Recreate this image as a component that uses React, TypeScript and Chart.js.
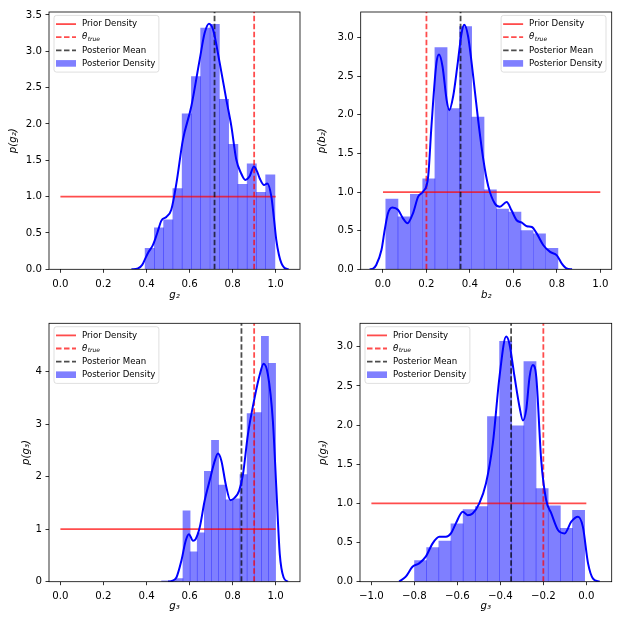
import { useEffect, useRef } from 'react';
import { Chart, registerables } from 'chart.js';

Chart.register(...registerables);
Chart.defaults.font.family = '"DejaVu Sans"';
Chart.defaults.color = '#000';

// ---- panel 1: g2 ----
const g2BinCenters = [0.415, 0.458, 0.501, 0.544, 0.587, 0.630, 0.673, 0.717, 0.760, 0.803, 0.846, 0.889, 0.932, 0.975];
const g2Density = [0.29, 0.57, 0.68, 1.11, 2.14, 2.65, 3.32, 3.37, 2.34, 1.72, 1.17, 1.45, 1.06, 1.30];
const g2KdeX = [0.33, 0.36, 0.38, 0.393, 0.41, 0.43, 0.45, 0.469, 0.492, 0.515, 0.539, 0.569, 0.608, 0.647, 0.670, 0.690, 0.709, 0.740, 0.771, 0.794, 0.817, 0.838, 0.859, 0.879, 0.899, 0.913, 0.926, 0.946, 0.961, 0.980, 0.992, 1.003, 1.015, 1.027, 1.04, 1.06];
const g2KdeY = [0, 0.01, 0.06, 0.14, 0.24, 0.335, 0.5, 0.67, 0.72, 0.82, 1.185, 1.78, 2.24, 2.885, 3.25, 3.38, 3.30, 2.84, 2.33, 1.97, 1.51, 1.33, 1.23, 1.28, 1.415, 1.35, 1.25, 1.16, 1.18, 1.0, 0.7, 0.40, 0.2, 0.08, 0.02, 0];
const g2True = 0.9;
const g2Mean = 0.716;

// ---- panel 2: b2 ----
const b2BinCenters = [0.041, 0.097, 0.154, 0.211, 0.267, 0.324, 0.380, 0.437, 0.494, 0.550, 0.607, 0.663, 0.720, 0.777];
const b2Density = [0.91, 0.68, 0.97, 1.17, 2.87, 2.08, 3.14, 1.97, 1.03, 0.78, 0.74, 0.50, 0.46, 0.27];
const b2KdeX = [-0.061, -0.045, -0.031, -0.007, 0.008, 0.023, 0.043, 0.069, 0.092, 0.113, 0.138, 0.162, 0.185, 0.208, 0.223, 0.246, 0.258, 0.274, 0.293, 0.305, 0.323, 0.342, 0.362, 0.374, 0.392, 0.415, 0.438, 0.462, 0.485, 0.515, 0.538, 0.569, 0.592, 0.615, 0.639, 0.662, 0.685, 0.708, 0.738, 0.769, 0.800, 0.823, 0.845, 0.87];
const b2KdeY = [0, 0.01, 0.056, 0.25, 0.51, 0.725, 0.80, 0.77, 0.66, 0.596, 0.725, 0.94, 1.006, 1.2, 1.85, 2.67, 2.78, 2.625, 2.19, 2.06, 2.24, 2.625, 3.06, 3.165, 3.01, 2.50, 1.93, 1.416, 1.07, 0.85, 0.81, 0.87, 0.76, 0.635, 0.605, 0.557, 0.548, 0.462, 0.311, 0.225, 0.18, 0.073, 0.01, 0];
const b2True = 0.2;
const b2Mean = 0.357;

// ---- panel 3: g3 ----
const g3BinCenters = [0.4866, 0.5197, 0.5528, 0.5859, 0.619, 0.6521, 0.6852, 0.7183, 0.7514, 0.7845, 0.8176, 0.8507, 0.8838, 0.9169, 0.95, 0.9831];
const g3Density = [0.015, 0.015, 0.06, 1.35, 0.57, 0.93, 2.1, 2.69, 1.84, 1.56, 1.58, 2.04, 3.2, 3.22, 4.67, 4.16];
const g3KdeX = [0.50, 0.515, 0.539, 0.562, 0.582, 0.597, 0.616, 0.628, 0.647, 0.670, 0.693, 0.717, 0.732, 0.748, 0.768, 0.79, 0.81, 0.83, 0.848, 0.871, 0.902, 0.926, 0.944, 0.964, 0.987, 1.003, 1.019, 1.037, 1.057];
const g3KdeY = [0, 0.01, 0.08, 0.40, 0.78, 0.905, 0.78, 0.81, 1.03, 1.54, 1.92, 2.30, 2.44, 2.30, 1.855, 1.55, 1.60, 1.73, 2.04, 2.80, 3.50, 3.94, 4.15, 3.94, 3.06, 1.79, 0.525, 0.08, 0];
const g3True = 0.9;
const g3Mean = 0.841;

// ---- panel 4: g3 (negative) ----
const g3nBinCenters = [-0.7711, -0.7146, -0.6580, -0.6015, -0.5449, -0.4884, -0.4318, -0.3753, -0.3188, -0.2622, -0.2057, -0.1491, -0.0926, -0.0361];
const g3nDensity = [0.27, 0.435, 0.52, 0.74, 0.92, 0.96, 2.11, 3.07, 1.99, 2.81, 1.19, 0.97, 0.68, 0.91];
const g3nKdeX = [-0.871, -0.84, -0.809, -0.778, -0.747, -0.715, -0.684, -0.653, -0.630, -0.607, -0.575, -0.552, -0.529, -0.498, -0.467, -0.435, -0.404, -0.373, -0.358, -0.334, -0.311, -0.295, -0.280, -0.264, -0.249, -0.233, -0.210, -0.187, -0.163, -0.132, -0.101, -0.070, -0.039, -0.016, 0.008, 0.031, 0.062];
const g3nKdeY = [0, 0.064, 0.19, 0.234, 0.32, 0.49, 0.574, 0.574, 0.617, 0.745, 0.894, 0.85, 0.872, 1.0, 1.255, 1.766, 2.617, 3.13, 3.04, 2.617, 2.234, 2.06, 2.19, 2.617, 2.766, 2.617, 1.553, 1.043, 0.872, 0.66, 0.617, 0.766, 0.83, 0.70, 0.234, 0.04, 0];
const g3nTrue = -0.2;
const g3nMean = -0.35;

// ticks and prior supports
const unitTicks = [0, 0.2, 0.4, 0.6, 0.8, 1.0];
const negTicks = [-1.0, -0.8, -0.6, -0.4, -0.2, 0.0];
const g2YTicks = [0, 0.5, 1.0, 1.5, 2.0, 2.5, 3.0, 3.5];
const b2YTicks = [0, 0.5, 1.0, 1.5, 2.0, 2.5, 3.0];
const g3YTicks = [0, 1, 2, 3, 4];
const g3nYTicks = [0, 0.5, 1.0, 1.5, 2.0, 2.5, 3.0];
const priorUnit = [0, 1];
const priorNeg = [-1, 0];
const priorLevel = 1;

const RED = 'rgba(255,0,0,0.7)';
const DARK = 'rgba(0,0,0,0.7)';
const BLUE_FILL = 'rgba(0,0,255,0.5)';
const DASH = [5.5, 2.5];
const LINE_W = 1.8;
const SIZE = 312;

interface PanelSpec {
    left: number;
    top: number;
    area: [number, number, number, number]; // L, T, R, B inside canvas
    xRange: [number, number];
    yRange: [number, number];
    xTicks: number[];
    yTicks: number[];
    yDecimals: number;
    xLabel: string;
    yLabel: string;
    yLabelPad: number;
    xLabelPad: number;
    centers: number[];
    heights: number[];
    kdeX: number[];
    kdeY: number[];
    prior: number[];
    trueVal: number;
    meanVal: number;
    legendSide: 'left' | 'right';
}

const fmt = (v: number, d: number) => (v < 0 ? '\u2212' + Math.abs(v).toFixed(d) : Math.abs(v).toFixed(d));

function drawLegend(chart: any, side: 'left' | 'right') {
    const { ctx, chartArea } = chart;
    ctx.save();
    ctx.font = '8.6px "DejaVu Sans"';
    const textW = Math.max(...['Prior Density', 'Posterior Mean', 'Posterior Density'].map((t) => ctx.measureText(t).width));
    const w = 2 + 20 + 6 + textW + 3.5;
    const h = 56.7;
    const x0 = side === 'left' ? chartArea.left + 5 : chartArea.right - 5.7 - w;
    const y0 = chartArea.top + 3.4;
    ctx.beginPath();
    ctx.roundRect(x0, y0, w, h, 2.5);
    ctx.fillStyle = 'rgba(255,255,255,0.8)';
    ctx.fill();
    ctx.strokeStyle = 'rgba(204,204,204,0.8)';
    ctx.lineWidth = 0.8;
    ctx.stroke();

    const rows = [8.7, 21.8, 34.9, 48].map((d) => y0 + d);
    const hx0 = x0 + 2;
    const hx1 = x0 + 22;
    const tx = x0 + 28;
    const seg = (y: number, color: string, dash: number[]) => {
        ctx.beginPath();
        ctx.setLineDash(dash);
        ctx.strokeStyle = color;
        ctx.lineWidth = LINE_W;
        ctx.moveTo(hx0, y);
        ctx.lineTo(hx1, y);
        ctx.stroke();
    };
    seg(rows[0], RED, []);
    seg(rows[1], RED, DASH);
    seg(rows[2], DARK, DASH);
    ctx.setLineDash([]);
    ctx.fillStyle = BLUE_FILL;
    ctx.fillRect(hx0, rows[3] - 3.3, 20, 6.6);

    ctx.fillStyle = '#000';
    ctx.textBaseline = 'middle';
    ctx.textAlign = 'left';
    ctx.fillText('Prior Density', tx, rows[0]);
    ctx.fillText('Posterior Mean', tx, rows[2]);
    ctx.fillText('Posterior Density', tx, rows[3]);
    ctx.font = 'italic 8.6px "DejaVu Sans"';
    ctx.fillText('\u03b8', tx, rows[1]);
    const tw = ctx.measureText('\u03b8').width;
    ctx.font = 'italic 6px "DejaVu Sans"';
    ctx.fillText('true', tx + tw + 0.4, rows[1] + 2.3);
    ctx.restore();
}

const Panel = ({ spec }: { spec: PanelSpec }) => {
    const canvasRef = useRef<HTMLCanvasElement>(null);

    useEffect(() => {
        if (!canvasRef.current) return;
        const [L, T, R, B] = spec.area;
        const frame = {
            id: 'frame',
            afterDatasetsDraw(chart: any) {
                const { ctx, chartArea } = chart;
                ctx.save();
                ctx.strokeStyle = '#000';
                ctx.lineWidth = 0.8;
                ctx.strokeRect(chartArea.left, chartArea.top, chartArea.right - chartArea.left, chartArea.bottom - chartArea.top);
                ctx.restore();
            },
            afterDraw(chart: any) {
                drawLegend(chart, spec.legendSide);
            },
        };
        const tickFont = { family: '"DejaVu Sans"', size: 10.2 };
        const labelFont = { family: '"DejaVu Sans"', size: 10.2, style: 'italic' as const };
        const chart = new Chart(canvasRef.current, {
            type: 'scatter',
            data: {
                datasets: [
                    {
                        type: 'line',
                        label: 'kde',
                        data: spec.kdeX.map((x, i) => ({ x, y: spec.kdeY[i] })),
                        borderColor: '#0000ff',
                        borderWidth: 2,
                        pointRadius: 0,
                        cubicInterpolationMode: 'monotone',
                        fill: false,
                        order: 0,
                    },
                    {
                        type: 'line',
                        label: 'Posterior Mean',
                        data: [
                            { x: spec.meanVal, y: spec.yRange[0] },
                            { x: spec.meanVal, y: spec.yRange[1] },
                        ],
                        borderColor: DARK,
                        borderWidth: LINE_W,
                        borderDash: DASH,
                        pointRadius: 0,
                        order: 1,
                    },
                    {
                        type: 'line',
                        label: 'true',
                        data: [
                            { x: spec.trueVal, y: spec.yRange[0] },
                            { x: spec.trueVal, y: spec.yRange[1] },
                        ],
                        borderColor: RED,
                        borderWidth: LINE_W,
                        borderDash: DASH,
                        pointRadius: 0,
                        order: 1,
                    },
                    {
                        type: 'line',
                        label: 'Prior Density',
                        data: spec.prior.map((x) => ({ x, y: priorLevel })),
                        borderColor: RED,
                        borderWidth: LINE_W,
                        pointRadius: 0,
                        order: 2,
                    },
                    {
                        type: 'bar',
                        label: 'Posterior Density',
                        data: spec.centers.map((x, i) => ({ x, y: spec.heights[i] })),
                        backgroundColor: BLUE_FILL,
                        borderWidth: 0,
                        barPercentage: 1,
                        categoryPercentage: 1,
                        order: 3,
                    },
                ] as any,
            },
            options: {
                animation: false,
                responsive: false,
                layout: { padding: { left: 0, top: T, right: SIZE - R, bottom: 0 } },
                plugins: { legend: { display: false }, tooltip: { enabled: false } },
                scales: {
                    x: {
                        type: 'linear',
                        min: spec.xRange[0],
                        max: spec.xRange[1],
                        offset: false,
                        grid: { display: true, drawOnChartArea: false, drawTicks: true, tickLength: 3.5, color: '#000', lineWidth: 0.8, offset: false },
                        border: { display: false },
                        ticks: { font: tickFont, color: '#000', padding: 5.5, maxRotation: 0, autoSkip: false, callback: (v: any) => fmt(Number(v), 1) },
                        afterBuildTicks: (s: any) => {
                            s.ticks = spec.xTicks.map((value) => ({ value }));
                        },
                        afterFit: (s: any) => {
                            s.height = SIZE - B;
                        },
                        title: { display: true, text: spec.xLabel, font: labelFont, color: '#000', padding: { top: 0, bottom: spec.xLabelPad } },
                    },
                    y: {
                        type: 'linear',
                        min: spec.yRange[0],
                        max: spec.yRange[1],
                        grid: { display: true, drawOnChartArea: false, drawTicks: true, tickLength: 3.5, color: '#000', lineWidth: 0.8 },
                        border: { display: false },
                        ticks: { font: tickFont, color: '#000', padding: 3.5, autoSkip: false, callback: (v: any) => fmt(Number(v), spec.yDecimals) },
                        afterBuildTicks: (s: any) => {
                            s.ticks = spec.yTicks.map((value) => ({ value }));
                        },
                        afterFit: (s: any) => {
                            s.width = L;
                        },
                        title: { display: true, text: spec.yLabel, font: labelFont, color: '#000', padding: { top: spec.yLabelPad, bottom: 0 } },
                    },
                },
            } as any,
            plugins: [frame],
        });
        return () => {
            chart.destroy();
        };
    }, [spec]);

    return (
        <canvas
            ref={canvasRef}
            width={SIZE}
            height={SIZE}
            style={{ position: 'absolute', left: spec.left, top: spec.top, width: SIZE, height: SIZE }}
        ></canvas>
    );
};

const panels: PanelSpec[] = [
    {
        left: 0, top: 0, area: [49, 12, 300, 269.3],
        xRange: [-0.053, 1.113], yRange: [0, 3.54], xTicks: unitTicks, yTicks: g2YTicks, yDecimals: 1,
        xLabel: 'g\u2082', yLabel: 'p(g\u2082)', yLabelPad: 7.3, xLabelPad: 11,
        centers: g2BinCenters, heights: g2Density, kdeX: g2KdeX, kdeY: g2KdeY,
        prior: priorUnit, trueVal: g2True, meanVal: g2Mean, legendSide: 'left',
    },
    {
        left: 311, top: 0, area: [49.7, 12, 300.7, 269.3],
        xRange: [-0.1025, 1.0525], yRange: [0, 3.33], xTicks: unitTicks, yTicks: b2YTicks, yDecimals: 1,
        xLabel: 'b\u2082', yLabel: 'p(b\u2082)', yLabelPad: 5.7, xLabelPad: 11,
        centers: b2BinCenters, heights: b2Density, kdeX: b2KdeX, kdeY: b2KdeY,
        prior: priorUnit, trueVal: b2True, meanVal: b2Mean, legendSide: 'right',
    },
    {
        left: 0, top: 311, area: [49, 12.3, 300, 270.7],
        xRange: [-0.053, 1.113], yRange: [0, 4.92], xTicks: unitTicks, yTicks: g3YTicks, yDecimals: 0,
        xLabel: 'g\u2083', yLabel: 'p(g\u2083)', yLabelPad: 20.7, xLabelPad: 10.3,
        centers: g3BinCenters, heights: g3Density, kdeX: g3KdeX, kdeY: g3KdeY,
        prior: priorUnit, trueVal: g3True, meanVal: g3Mean, legendSide: 'left',
    },
    {
        left: 311, top: 311, area: [49, 12.3, 300.7, 270.7],
        xRange: [-1.053, 0.118], yRange: [0, 3.3], xTicks: negTicks, yTicks: g3nYTicks, yDecimals: 1,
        xLabel: 'g\u2083', yLabel: 'p(g\u2083)', yLabelPad: 6.3, xLabelPad: 11,
        centers: g3nBinCenters, heights: g3nDensity, kdeX: g3nKdeX, kdeY: g3nKdeY,
        prior: priorNeg, trueVal: g3nTrue, meanVal: g3nMean, legendSide: 'left',
    },
];

export default function App() {
    return (
        <div style={{ position: 'absolute', left: 0, top: 0, width: 623, height: 623, background: '#fff' }}>
            {panels.map((p, i) => (
                <Panel key={i} spec={p} />
            ))}
        </div>
    );
}
